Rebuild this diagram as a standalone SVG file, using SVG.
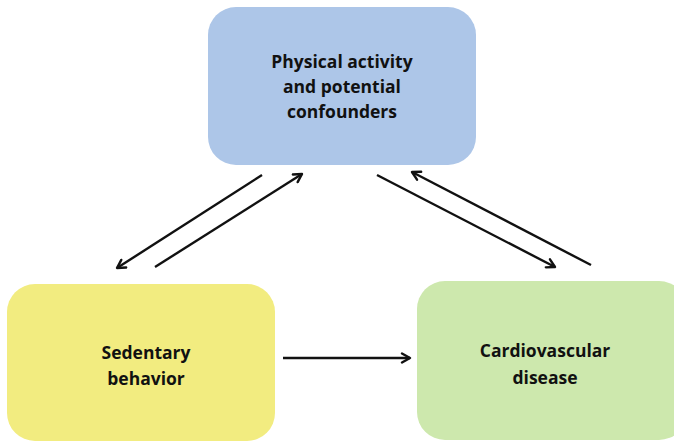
<svg xmlns="http://www.w3.org/2000/svg" width="674" height="443" viewBox="0 0 674 443">
  <style>
    .box { stroke: none; }
    .label { font-family: "Open Sans", "Liberation Sans", Arial, sans-serif; font-weight: 700; font-size: 17.5px; fill: #111; text-anchor: middle; }
    .edge { stroke: #111; stroke-width: 2.4; fill: none; marker-end: url(#chevron); }
  </style>
  <defs>
    <marker id="chevron" viewBox="0 0 12 12" refX="10" refY="6" markerWidth="12" markerHeight="12" markerUnits="userSpaceOnUse" orient="auto">
      <path d="M2,1.5 L10,6 L2,10.5" fill="none" stroke="#111" stroke-width="2.4" stroke-linecap="round" stroke-linejoin="round"/>
    </marker>
  </defs>
  <rect width="674" height="443" fill="#ffffff"/>

  <g id="physical-activity">
    <rect class="box" x="208" y="7" width="268" height="158" rx="28" fill="#adc6e8"/>
    <text class="label" x="342" y="68">Physical activity</text>
    <text class="label" x="342" y="93">and potential</text>
    <text class="label" x="342" y="118">confounders</text>
  </g>

  <g id="sedentary-behavior">
    <rect class="box" x="7" y="284" width="268" height="157" rx="28" fill="#f2ec80"/>
    <text class="label" x="146" y="359">Sedentary</text>
    <text class="label" x="146" y="385">behavior</text>
  </g>

  <g id="cardiovascular-disease">
    <rect class="box" x="417" y="281" width="270" height="159" rx="28" fill="#cde8ad"/>
    <text class="label" x="545" y="357">Cardiovascular</text>
    <text class="label" x="545" y="384">disease</text>
  </g>

  <g id="connectors">
    <line class="edge" x1="262" y1="175" x2="117" y2="268"/>
    <line class="edge" x1="155" y1="267" x2="302" y2="174"/>
    <line class="edge" x1="377" y1="175" x2="555" y2="267"/>
    <line class="edge" x1="591" y1="265" x2="412" y2="172"/>
    <line class="edge" x1="283" y1="358" x2="410" y2="358"/>
  </g>
</svg>
